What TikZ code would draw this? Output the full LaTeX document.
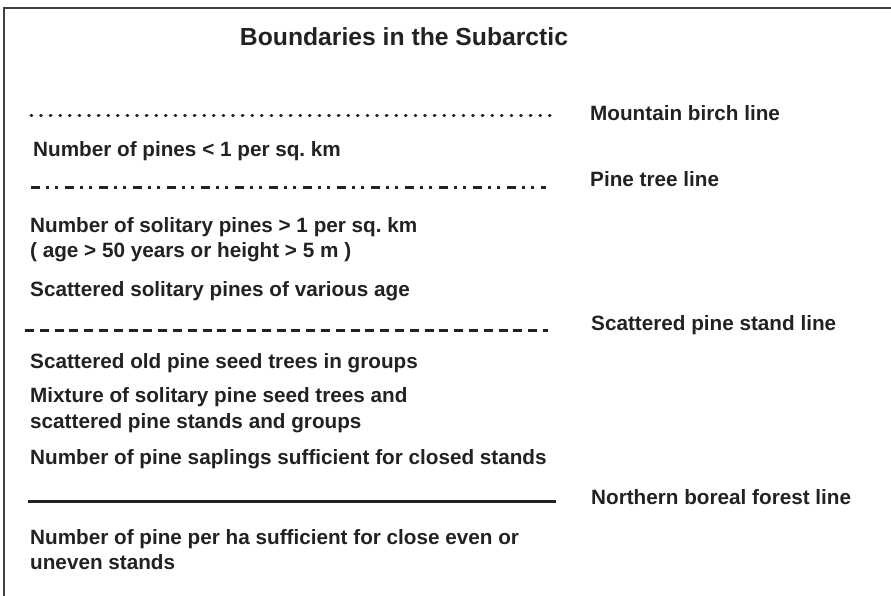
\documentclass[tikz,border=0pt]{standalone}
\usepackage{fontspec}
\setmainfont{Liberation Sans}
\usepackage{tikz}
\frenchspacing
\definecolor{ink}{HTML}{222222}
\tikzset{
	txt/.style={anchor=base west, inner sep=0pt, text=ink, font=\fontsize{20.7}{24}\selectfont\bfseries},
	bline/.style={line width=3pt, color=ink},
}

\begin{document}
\begin{tikzpicture}[x=1pt, y=-1pt]
		%%%%% START %%%%%
		\useasboundingbox (0, 0) rectangle (891, 596);
		
		\draw[line width=1.4pt, color=black!75] (4, 596) -- (4, 8) -- (891, 8);
		
		\node[anchor=base, inner sep=0pt, text=ink, font=\fontsize{24.7}{28}\selectfont\bfseries] (title) at (404, 46) {Boundaries in the Subarctic};
		
		% mountain birch line
		\coordinate (mb1) at (31, 116);
		\coordinate (mb2) at (556, 116);
		\draw[bline, line cap=round, dash pattern=on 0.8pt off 8.8pt] (mb1) -- (mb2);
		\node[txt] (mbl) at (590, 121) {Mountain birch line};
		
		\node[txt] (t1) at (33, 157) {Number of pines < 1 per sq. km};
		
		% pine tree line
		\coordinate (pt1) at (31, 188);
		\coordinate (pt2) at (546, 188);
		\draw[bline, dash pattern=on 9pt off 6pt on 3pt off 6pt on 3pt off 7pt] (pt1) -- (pt2);
		\node[txt] (ptl) at (590, 187) {Pine tree line};
		
		\node[txt] (t2) at (30, 232) {Number of solitary pines > 1 per sq. km};
		\node[txt] (t3) at (30, 257) {( age > 50 years or height > 5 m )};
		\node[txt] (t4) at (30, 296) {Scattered solitary pines of various age};
		
		% scattered pine stand line
		\coordinate (sp1) at (25, 330);
		\coordinate (sp2) at (548, 330);
		\draw[bline, dash pattern=on 9pt off 5.8pt] (sp1) -- (sp2);
		\node[txt] (spl) at (591, 330) {Scattered pine stand line};
		
		\node[txt] (t5) at (30, 368) {Scattered old pine seed trees in groups};
		\node[txt] (t6) at (30, 402) {Mixture of solitary pine seed trees and};
		\node[txt] (t7) at (30, 428) {scattered pine stands and groups};
		\node[txt] (t8) at (30, 464) {Number of pine saplings sufficient for closed stands};
		
		% northern boreal forest line
		\coordinate (nb1) at (28, 501);
		\coordinate (nb2) at (556, 501);
		\draw[bline] (nb1) -- (nb2);
		\node[txt] (nbl) at (591, 504) {Northern boreal forest line};
		
		\node[txt] (t9) at (30, 544) {Number of pine per ha sufficient for close even or};
		\node[txt] (t10) at (30, 569) {uneven stands};
		
		%%%%% END %%%%%
	\end{tikzpicture}
\end{document}
